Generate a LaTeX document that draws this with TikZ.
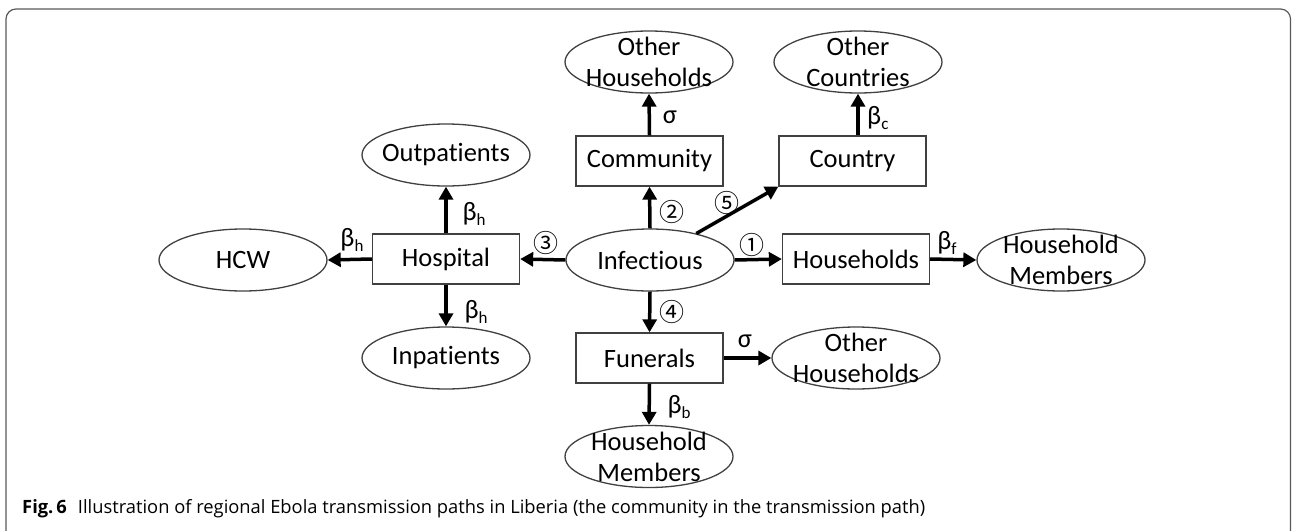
\documentclass[tikz,border=0pt]{standalone}
\usepackage{fontspec}
\setmainfont{Carlito}[Ligatures={NoCommon,NoContextual}]
\newfontfamily\circfont{Noto Sans CJK SC}
\newfontfamily\capfont{Open Sans}
\usetikzlibrary{shapes.geometric,arrows.meta}
\newcommand\mysub[1]{β\raisebox{-4.5pt}{\fontsize{17}{17}\selectfont #1}}
\begin{document}
\begin{tikzpicture}[x=1pt,y=-1pt,
 box/.style={draw=black!75,line width=1.3pt,minimum width=147pt,minimum height=50pt,inner sep=0pt,font=\fontsize{26.5}{30}\selectfont},
 ell/.style={draw=black!75,line width=1.3pt,ellipse,minimum width=168pt,minimum height=62pt,inner sep=0pt},
 txt/.style={font=\fontsize{26.5}{31}\selectfont,align=center,inner sep=0pt},
 arr/.style={line width=3.5pt,-{Triangle[length=13pt,width=14pt]}},
 lab/.style={font=\fontsize{26.5}{30}\selectfont,inner sep=0pt},
 num/.style={font=\circfont\fontsize{25}{25}\selectfont,inner sep=0pt}]
\useasboundingbox (0,0) rectangle (1292,530);
\begin{scope}
\clip (0,0) rectangle (1292,530);
\draw[black!65,line width=1.2pt,rounded corners=10pt] (6,560) -- (6,9) -- (1290.5,9) -- (1290.5,560);
\end{scope}
% nodes
\node[ell] (oh1) at (649,62) {};
\node[txt] at (oh1) {Other\\Households};
\node[ell] (oc) at (858,62) {};
\node[txt] at (oc) {Other\\Countries};
\node[box] (comm) at (649.5,161) {Community};
\node[box] (ctry) at (852.5,161) {Country};
\node[ell] (outp) at (446,155) {};
\node[txt] at (outp) {Outpatients};
\node[ell] (hcw) at (243,260) {};
\node[txt] at (hcw) {HCW};
\node[box] (hosp) at (446,259) {Hospital};
\node[ell] (inf) at (650,260) {};
\node[txt] at (inf) {Infectious};
\node[box] (hh) at (856,259) {Households};
\node[ell] (hm1) at (1061,260) {};
\node[txt] at (hm1) {Household\\Members};
\node[ell] (inp) at (446,358) {};
\node[txt] at (inp) {Inpatients};
\node[box] (fun) at (649.5,358) {Funerals};
\node[ell] (oh2) at (856,358) {};
\node[txt] at (oh2) {Other\\Households};
\node[ell] (hm2) at (649,456.5) {};
\node[txt] at (hm2) {Household\\Members};
% arrows
\draw[arr] (comm.north) -- (oh1.south);
\draw[arr] (ctry.north -| oc.south) -- (oc.south);
\draw[arr] (inf.north) -- (comm.south);
\draw[arr] (inf) -- (ctry.south west);
\draw[arr] (inf.east) -- (hh.west);
\draw[arr] (hh.east) -- (hm1.west);
\draw[arr] (inf.west) -- (hosp.east);
\draw[arr] (hosp.west) -- (hcw.east);
\draw[arr] (hosp.north) -- (outp.south);
\draw[arr] (hosp.south) -- (inp.north);
\draw[arr] (inf.south) -- (fun.north);
\draw[arr] (fun.east) -- (oh2.west);
\draw[arr] (fun.south) -- (hm2.north);
% labels
\node[lab] (l1) at (670,117) {σ};
\node[lab,anchor=west] (l2) at (867,118) {\mysub{c}};
\node[lab] (l3) at (352,240) {\mysub{h}};
\node[lab] (l4) at (474,214) {\mysub{h}};
\node[lab] (l5) at (476,312) {\mysub{h}};
\node[lab] (l6) at (947,243) {\mysub{f}};
\node[lab] (l7) at (745,341) {σ};
\node[lab] (l8) at (679,407) {\mysub{b}};
\node[num] (n1) at (752,245) {①};
\node[num] (n2) at (672,212) {②};
\node[num] (n3) at (546,243) {③};
\node[num] (n4) at (672,312) {④};
\node[num] (n5) at (727,203) {⑤};
% caption
\node[anchor=base west,inner sep=0pt] (cap) at (22,513) {\resizebox{903pt}{!}{\capfont\fontsize{17}{20}\selectfont\textbf{Fig.\,6}\hspace{0.6em}Illustration of regional Ebola transmission paths in Liberia (the community in the transmission path)}};
\end{tikzpicture}
\end{document}
